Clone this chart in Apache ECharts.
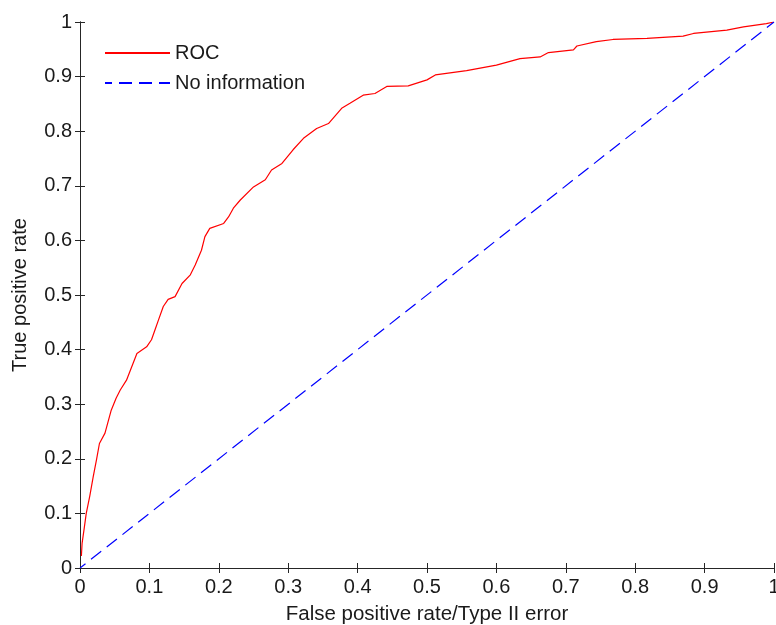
<!DOCTYPE html>
<html>
<head>
<meta charset="utf-8">
<script src="https://cdn.jsdelivr.net/npm/echarts@6/dist/echarts.min.js"></script>
<style>html,body{margin:0;padding:0;background:#fff;}#c{width:776px;height:625px;}</style>
</head>
<body>
<div id="c"></div>
<script>
const rocX = [0.002, 0.003, 0.006, 0.009, 0.014, 0.019, 0.024, 0.028, 0.036, 0.045, 0.052, 0.058, 0.067, 0.082, 0.096, 0.103, 0.108, 0.113, 0.12, 0.127, 0.137, 0.147, 0.159, 0.166, 0.175, 0.18, 0.187, 0.207, 0.214, 0.221, 0.231, 0.25, 0.267, 0.276, 0.291, 0.307, 0.322, 0.341, 0.358, 0.377, 0.389, 0.408, 0.425, 0.442, 0.473, 0.5, 0.512, 0.557, 0.6, 0.634, 0.663, 0.675, 0.711, 0.716, 0.744, 0.768, 0.817, 0.869, 0.884, 0.932, 0.956, 0.989, 1];
const rocY = [0.022, 0.045, 0.072, 0.1, 0.131, 0.167, 0.2, 0.228, 0.247, 0.289, 0.311, 0.326, 0.344, 0.393, 0.405, 0.418, 0.436, 0.454, 0.479, 0.492, 0.497, 0.521, 0.537, 0.555, 0.582, 0.607, 0.622, 0.631, 0.643, 0.659, 0.674, 0.698, 0.711, 0.729, 0.741, 0.766, 0.787, 0.805, 0.814, 0.842, 0.851, 0.866, 0.869, 0.882, 0.883, 0.894, 0.903, 0.911, 0.921, 0.933, 0.936, 0.944, 0.949, 0.956, 0.964, 0.968, 0.97, 0.974, 0.979, 0.985, 0.991, 0.997, 1];
const noInfoX = [0, 1];
const noInfoY = [0, 1];
const seriesNames = ['ROC', 'No information'];
const xTitle = 'False positive rate/Type II error';
const yTitle = 'True positive rate';

const FONT = 'Liberation Sans, Arial, sans-serif';
const AX = '#262626';
const TXT = '#1a1a1a';
const pairs = (xs, ys) => xs.map((x, i) => [x, ys[i]]);
const fmt = v => (Math.abs(v) < 1e-9 ? '0' : (Math.abs(v - 1) < 1e-9 ? '1' : v.toFixed(1)));

const chart = echarts.init(document.getElementById('c'), null, {renderer: 'canvas'});
const baseAxis = {
  type: 'value', min: 0, max: 1, interval: 0.1,
  axisLine: {show: true, lineStyle: {color: AX, width: 1}},
  axisTick: {show: true, inside: true, length: 5, lineStyle: {color: AX, width: 1}},
  splitLine: {show: false}
};
chart.setOption({
  animation: false,
  backgroundColor: '#fff',
  grid: {left: 80, right: 2, top: 22, bottom: 57, containLabel: false, outerBoundsMode: 'none'},
  legend: {
    orient: 'vertical', left: 104, top: 43, padding: 0, itemWidth: 65, itemHeight: 14, itemGap: 10,
    data: seriesNames,
    itemStyle: {opacity: 0},
    textStyle: {fontFamily: FONT, fontSize: 20, color: TXT},
    selectedMode: false
  },
  xAxis: [
    Object.assign({}, baseAxis, {
      position: 'bottom',
      name: xTitle, nameLocation: 'middle', nameGap: 36,
      nameTextStyle: {fontFamily: FONT, fontSize: 20.5, color: TXT},
      axisLabel: {show: true, margin: 9, fontFamily: FONT, fontSize: 20, color: TXT, formatter: fmt}
    }),
    Object.assign({}, baseAxis, {position: 'top', axisLabel: {show: false}})
  ],
  yAxis: [
    Object.assign({}, baseAxis, {
      position: 'left',
      name: yTitle, nameLocation: 'middle', nameGap: 50,
      nameTextStyle: {fontFamily: FONT, fontSize: 20, color: TXT},
      axisLabel: {show: true, margin: 8, fontFamily: FONT, fontSize: 20, color: TXT, formatter: fmt}
    }),
    Object.assign({}, baseAxis, {position: 'right', axisLabel: {show: false}})
  ],
  series: [
    {
      name: seriesNames[0], type: 'line', xAxisIndex: 0, yAxisIndex: 0,
      data: pairs(rocX, rocY), showSymbol: false, symbol: 'none',
      lineStyle: {color: '#ff0000', width: 1.2}, itemStyle: {color: '#ff0000'}
    },
    {
      name: seriesNames[1], type: 'line', xAxisIndex: 0, yAxisIndex: 0,
      data: pairs(noInfoX, noInfoY), showSymbol: false, symbol: 'none',
      lineStyle: {color: '#0000ff', width: 1.2, type: [13, 7], dashOffset: 6}, itemStyle: {color: '#0000ff'}
    }
  ]
});
</script>
</body>
</html>
